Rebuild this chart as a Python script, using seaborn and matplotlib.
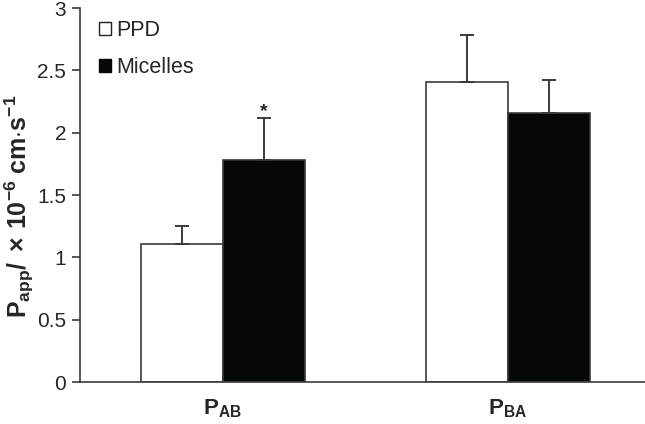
import matplotlib
matplotlib.use("Agg")
import matplotlib.pyplot as plt
from matplotlib.patches import Patch
import seaborn as sns
import numpy as np
import pandas as pd

groups = ["AB", "BA"]
formulations = ["PPD", "Micelles"]
ppd_mean = [1.11, 2.41]
ppd_err = [0.14, 0.37]
mic_mean = [1.78, 2.16]
mic_err = [0.34, 0.26]
tick_labels = [r"$\mathbf{P_{AB}}$", r"$\mathbf{P_{BA}}$"]

df = pd.DataFrame({
    "group": groups * 2,
    "form": ["PPD"] * 2 + ["Micelles"] * 2,
    "mean": ppd_mean + mic_mean,
    "err": ppd_err + mic_err,
})

sns.set_style("ticks")
plt.rcParams["font.family"] = ["Liberation Sans", "DejaVu Sans"]
plt.rcParams["mathtext.fontset"] = "custom"
plt.rcParams["mathtext.rm"] = "Liberation Sans"
plt.rcParams["mathtext.bf"] = "Liberation Sans:bold"
plt.rcParams["mathtext.it"] = "Liberation Sans:italic"

edge = "#3a3a3a"
fig = plt.figure(figsize=(6.45, 4.24), dpi=100)
ax = fig.add_axes([0.124, 0.099, 0.876, 0.882])

sns.barplot(data=df, x="group", y="mean", hue="form", hue_order=formulations,
            palette=["white", "#050808"], edgecolor=edge, linewidth=1.2,
            width=0.575, errorbar=None, legend=False, ax=ax)

# upper-only error bars at bar centres
for i, form in enumerate(formulations):
    sub = df[df["form"] == form]
    xs = [p.get_x() + p.get_width() / 2 for p in ax.containers[i]]
    ax.errorbar(xs, sub["mean"], yerr=[np.zeros(len(sub)), sub["err"]],
                fmt="none", ecolor=edge, elinewidth=1.4, capsize=5,
                capthick=1.4, zorder=1)

# significance marker
p = ax.containers[1][0]
ax.text(p.get_x() + p.get_width() / 2, mic_mean[0] + mic_err[0] + 0.05, "*",
        ha="center", va="center", fontsize=14, fontweight="bold")

ax.set_xlim(-0.5, 1.48)
ax.set_ylim(0, 3)
ax.set_yticks([0, 0.5, 1, 1.5, 2, 2.5, 3])
ax.set_yticklabels(["0", "0.5", "1", "1.5", "2", "2.5", "3"], fontsize=15)
ax.set_xticks([0, 1])
ax.set_xticklabels(tick_labels, fontsize=16)
ax.tick_params(axis="x", length=0, pad=11)
ax.tick_params(axis="y", length=6, width=1.2, color=edge, pad=4)
ax.set_xlabel("")
ax.set_ylabel(r"$\mathbf{P_{app}/\ \times\,10^{-6}\ cm{\cdot}s^{-1}}$", fontsize=18)
ax.yaxis.set_label_coords(-0.078, 0.47)

sns.despine(ax=ax)
for s in ["left", "bottom"]:
    ax.spines[s].set_color(edge)
    ax.spines[s].set_linewidth(1.2)

handles = [Patch(facecolor="white", edgecolor="#222222", linewidth=1.0),
           Patch(facecolor="#050808", edgecolor="#050808")]
ax.legend(handles, formulations, loc="upper left", bbox_to_anchor=(0.0, 1.02),
          frameon=False, fontsize=15.5, handlelength=0.55, handleheight=0.55,
          handletextpad=0.25, labelspacing=0.75)

fig.savefig("out.png", dpi=100)
